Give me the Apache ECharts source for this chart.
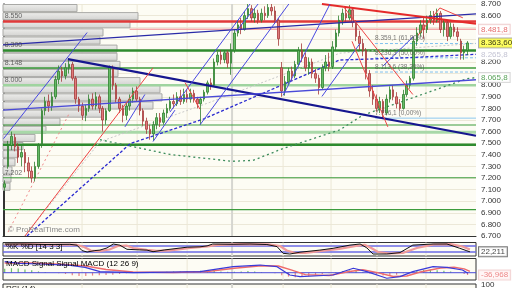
<!DOCTYPE html>
<html><head><meta charset="utf-8">
<script src="https://cdn.jsdelivr.net/npm/echarts@6/dist/echarts.min.js"></script>
<style>html,body{margin:0;padding:0;background:#fff}#c{width:512px;height:288px}</style>
</head><body><div id="c"></div>
<script>
// ---------------- DATA ----------------
const N_SLOTS = 140;
// [open, close, low, high]
const CANDLES = [
[7120,7150,7090,7180],[7300,7480,7280,7520],[7480,7560,7440,7600],[7550,7470,7430,7580],[7470,7380,7330,7500],
[7380,7420,7300,7480],[7420,7330,7250,7450],[7330,7260,7200,7380],[7260,7200,7160,7300],[7200,7300,7170,7340],
[7300,7480,7280,7500],[7480,7780,7460,7800],[7780,7860,7740,7900],[7860,7820,7770,7920],[7820,7900,7780,7940],
[7900,8050,7880,8080],[8050,8120,8010,8170],[8120,8080,8030,8160],[8080,8150,8050,8190],[8150,8180,8100,8230],
[8180,8060,8040,8200],[8060,7880,7840,8080],[7880,7820,7770,7900],[7820,7740,7700,7850],[7740,7800,7690,7830],
[7800,7880,7770,7920],[7880,7820,7790,7930],[7820,7900,7790,7940],[7900,7800,7760,7920],[7800,7700,7600,7820],
[7700,7780,7660,7800],[7780,8150,7770,8170],[8150,8000,7960,8170],[8000,7880,7850,8020],[7880,7800,7760,7900],
[7800,7740,7680,7830],[7740,7820,7700,7850],[7820,7880,7780,7920],[7880,7950,7850,7980],[7950,7880,7860,7990],
[7880,7780,7740,7900],[7780,7690,7650,7800],[7690,7620,7580,7720],[7620,7580,7530,7660],[7580,7660,7520,7690],
[7660,7720,7620,7760],[7720,7680,7640,7760],[7680,7760,7660,7790],[7760,7800,7720,7840],[7800,7860,7780,7900],
[7860,7840,7800,7920],[7840,7900,7820,7940],[7900,7860,7830,7960],[7860,7920,7840,7970],[7920,7880,7850,7960],
[7880,7930,7850,7970],[7930,7880,7850,7960],[7880,7840,7800,7900],[7840,7880,7660,7900],[7880,7940,7860,7960],
[7940,8020,7920,8040],[8020,8000,7960,8060],[8000,8200,7990,8230],[8200,8260,8170,8290],[8260,8220,8180,8300],
[8220,8280,8190,8300],[8280,8190,8150,8300],[8190,8300,8090,8360],[8300,8450,8280,8480],[8450,8520,8420,8560],
[8520,8480,8440,8580],[8480,8600,8470,8640],[8600,8660,8570,8700],[8660,8580,8550,8690],[8580,8620,8540,8660],
[8620,8560,8530,8650],[8560,8620,8540,8660],[8620,8600,8560,8680],[8600,8670,8580,8700],[8670,8640,8600,8700],
[8640,8560,8540,8680],[8560,8400,8340,8580],[8150,7950,7900,8200],[7950,8030,7910,8080],[8030,8120,8000,8150],
[8120,8080,8040,8160],[8080,8180,8060,8210],[8180,8300,8160,8330],[8300,8240,8200,8360],[8240,8150,8120,8280],
[8150,8200,8090,8240],[8200,8100,8060,8230],[8100,8060,8020,8140],[8060,7980,7920,8090],[7980,8150,7960,8180],
[8150,8200,8120,8260],[8200,8160,8120,8280],[8160,8330,8140,8380],[8330,8450,8300,8480],[8450,8560,8420,8600],
[8560,8620,8520,8660],[8620,8580,8540,8670],[8580,8650,8560,8690],[8650,8540,8500,8670],[8540,8420,8380,8560],
[8420,8360,8300,8470],[8360,8300,8250,8400],[8300,8100,8050,8320],[8100,7950,7900,8130],[7950,7880,7830,8000],
[7880,7800,7770,7920],[7800,7860,7760,7900],[7860,7760,7716,7880],[7760,7880,7740,7920],[7880,7960,7850,7990],
[7960,7900,7870,8000],[7900,7840,7800,7940],[7840,7800,7780,7880],[7800,7920,7790,7960],[7920,8000,7900,8040],
[8000,8060,7970,8080],[8060,8380,8040,8420],[8380,8450,8340,8500],[8450,8520,8420,8560],[8520,8480,8400,8580],
[8480,8560,8450,8600],[8560,8600,8530,8640],[8600,8560,8520,8640],[8560,8620,8540,8660],[8620,8480,8450,8640],
[8480,8540,8420,8570],[8540,8420,8380,8560],[8420,8500,8400,8540],[8500,8460,8420,8530],[8460,8420,8380,8500],
[8380,8280,8220,8400],[8280,8300,8220,8340],[8300,8364,8260,8380]
];
// volume profile bins (price top, price bottom, volume)
const VP_TOP    = [8700,8630,8560,8490,8420,8350,8280,8210,8140,8070,8000,7930,7860,7790,7720,7650,7580,7510,7440,7370,7300,7230,7160];
const VP_BOTTOM = [8630,8560,8490,8420,8350,8280,8210,8140,8070,8000,7930,7860,7790,7720,7650,7580,7510,7440,7370,7300,7230,7160,7090];
const VP_VOL    = [74,135,127,100,97,114,114,117,115,137,157,159,150,100,57,43,32,20,15,12,9,8,7];
// horizontal support / resistance levels
const LEVELS      = [8550, 8300, 8148, 8000, 7657, 7594, 7487, 7202, 6927];
const LEVEL_TEXT  = ['8.550','8.300','8.148','8.000','','','','7.202',''];
const RES_LINE    = [[37, 8481.8],[139.5, 8481.8]];
// trend lines in (candle index, price)
const TREND_NAVY     = [[18.7,8225],[139.5,7564]];
const TREND_BLUE_LONG= [[-0.5,7785],[139.5,8047]];
const TREND_NAVY_TOP = [[-0.5,8347],[139.5,8615]];
const TREND_RED_TOP  = [[93.9,8700],[139.5,8530]];
const CHANNEL_LINES = [
  [[-0.35,7539],[24.4,8454]], [[48.9,7768],[72.6,8700]], [[57.8,7658],[84.1,8700]],
  [[82.4,7912],[96.3,8700]], [[93.9,7903],[105.2,8361]], [[112,8166],[121,8420]],
  [[35.6,7641],[41.5,7920]], [[43.9,7514],[50.4,7785]], [[68.5,8463],[75,8700]]
];
const RED_LINES = [
  [[6.0,6700],[43.9,8149]], [[100.1,8683],[120.8,7920]], [[102.8,8378],[113.4,7641]],
  [[122.3,8429],[128.8,8666],[135.6,8581]], [[53.4,8022],[57.8,7793]]
];
const RED_DOTTED = [[1.0,6734],[19.3,7768]];
const MA_BLUE  = [[6.6,6700],[37.2,7497],[58.8,7708],[99.1,8217],[116.9,8234],[139.5,8266]];
const MA_GREEN = [[28.2,7530],[48.9,7403],[67.3,7344],[73.5,7352],[82.4,7454],[99.2,7615],[106,7742],[117,7853],[136.8,8056],[139.5,8066]];
const MA_GRAY  = [[6.0,6700],[28.2,7513],[60.8,7853],[99.2,8276],[139.5,8361]];
const FIB_START = 109.6;
const FIB_VALUES = [8359.1, 8236.3, 8113.6, 7716.1];
const FIB_TEXT = ['8.359,1 (61,80%)','8.236,3 (50,00%)','8.113,6 (38,20%)','7.716,1 (0,00%)'];
const BADGE_VALUES = [8481.8, 8363.6, 8265.8, 8065.8];
const BADGE_TEXT = ['8.481,8','8.363,60','8.265,8','8.065,8'];
const Y_HIDDEN_TICKS = [8500, 8400, 8300, 8100];
const VLINES = [22.9, 39.2, 54, 67.3, 82.4, 96.6, 110.2, 124.7];
// indicators
const STOCH_K = [[0,100],[4.5,100],[12,95],[19.3,97],[21.4,88],[22.9,34],[24.4,20],[26.7,34],[28.2,39],[30.3,61],[32.1,100],[34.1,88],[36.2,47],[40,41],[42.1,39],[43.9,23],[47.4,41],[54,68],[57.8,72],[59.9,81],[61.6,100],[67.6,97],[72.6,100],[77.6,95],[80.6,74],[82.4,7],[84.4,0],[87.4,18],[93.3,39],[97.2,57],[102.2,89],[105.2,100],[107.2,61],[109,0],[113.1,0],[117,14],[120.8,89],[126.8,100],[130.9,100],[134.7,57],[136.8,32],[137.7,22]];
const STOCH_D = [[0,95],[6,98],[14,94],[21,95],[23.5,70],[25.5,35],[28,28],[31,45],[33.5,80],[36,85],[38,60],[42,42],[45,32],[49,36],[55,60],[60,75],[63,92],[70,98],[78,96],[81.5,80],[83.5,35],[86,10],[89,12],[95,35],[99,52],[104,80],[106.5,92],[108.5,60],[110.5,20],[114,5],[118,12],[122,60],[127,95],[132,98],[135.5,75],[137.7,45]];
const STOCH_LEVELS = [80, 20];
const STOCH_LAST = 22.211, STOCH_LAST_TEXT = '22,211';
const MACD_LINE = [[0,172],[4.5,146],[10.5,136],[18.4,120],[23.8,84],[28.2,16],[38,0],[48.9,10],[57.8,16],[67.6,94],[75.6,120],[80.6,94],[84.4,-36],[87.4,-62],[97.2,-36],[103.2,69],[107.2,16],[113.1,-87],[117,-62],[120.8,16],[126.8,94],[130.9,84],[135.5,42],[137.1,-10]];
const MACD_SIGNAL = [[0,150],[8,150],[18,130],[24,105],[30,50],[38,12],[50,5],[60,20],[68,70],[76,110],[81,105],[85,40],[89,-30],[96,-45],[102,20],[106,45],[110,5],[115,-60],[119,-50],[123,10],[129,75],[133,85],[136,60],[137.7,20]];
const MACD_HIST = [[0,60],[2,70],[4,65],[6,50],[8,40],[10,20],[12,10],[14,0],[16,-10],[18,-20],[20,-40],[22,-50],[24,-50],[26,-45],[28,-40],[30,-35],[32,-30],[34,-20],[36,-10],[38,-5],[40,0],[42,5],[44,10],[46,10],[48,15],[50,20],[52,20],[54,25],[56,25],[58,30],[60,30],[62,25],[64,20],[66,15],[68,15],[70,20],[72,25],[74,20],[76,10],[78,0],[80,-10],[82,-40],[84,-60],[86,-70],[88,-65],[90,-55],[92,-40],[94,-25],[96,-10],[98,10],[100,25],[102,35],[104,30],[106,10],[108,-10],[110,-30],[112,-45],[114,-40],[116,-30],[118,-10],[120,10],[122,30],[124,45],[126,50],[128,40],[130,30],[132,20],[134,0],[136,-20],[137,-35]];
const MACD_LAST = -36.968, MACD_LAST_TEXT = '-36,968';
const RSI_TICK = 100;

// ---------------- CHART ----------------
const FONT = 'Liberation Sans, Arial, sans-serif';
const fmtPrice = v => Math.floor(v/1000) + '.' + String(Math.round(v%1000)).padStart(3,'0');
const chart = echarts.init(document.getElementById('c'), null, {renderer:'canvas'});
const series = [];
const L = (data, style, z, xi, yi) => series.push({type:'line', xAxisIndex: xi===undefined?1:xi, yAxisIndex: yi===undefined?0:yi,
  data, symbol:'none', showSymbol:false, silent:true, animation:false, z: z||6, lineStyle: style});

// vertical grid lines
VLINES.forEach((v,i) => {
  const w = (i===3) ? 2 : 1, c = (i===3) ? '#d6d6d0' : '#ece7d6';
  L([[v,6700],[v,8700]], {color:c, width:w}, 1, 1, 0);
  L([[v,-20],[v,115]], {color:c, width:w}, 1, 3, 2);
  L([[v,-114],[v,222]], {color:c, width:w}, 1, 4, 3);
  L([[v,-20],[v,120]], {color:c, width:w}, 1, 5, 4);
});

// volume profile
series.push({type:'custom', xAxisIndex:2, yAxisIndex:0, silent:true, animation:false, z:2,
  data: VP_VOL.map((v,i)=>[v, VP_TOP[i], VP_BOTTOM[i]]),
  renderItem: (params, api) => {
    const p0 = api.coord([0, api.value(1)]);
    const p1 = api.coord([api.value(0), api.value(2)]);
    return {type:'rect', shape:{x:p0[0], y:p0[1]+0.5, width:p1[0]-p0[0], height:p1[1]-p0[1]-1},
      style:{fill: new echarts.graphic.LinearGradient(0,0,0,1,[{offset:0,color:'#eeeeec'},{offset:1,color:'#d2d2d0'}]),
             stroke:'#a9a9a6', lineWidth:1}};
  }});

// horizontal levels
const LEVEL_STYLE = [
  {color:'#e03a3a', width:2.5},{color:'#2e8b2e', width:2.5},{color:'#3c9c3c', width:1.5},{color:'#9fd49f', width:2.5},
  {color:'#3c9c3c', width:1.2},{color:'#a8d8a8', width:3},{color:'#2e8b2e', width:2.5},{color:'#3c9c3c', width:1.2},{color:'#3c9c3c', width:1.2}];
LEVELS.forEach((v,i) => L([[-0.5,v],[139.5,v]], LEVEL_STYLE[i], 3));
L(RES_LINE, {color:'#f2a6a6', width:1.5}, 3);
// fib lines
FIB_VALUES.forEach((v,i) => L([[FIB_START,v],[139.5,v]], i===3 ? {color:'#8cc8f0', width:1} : {color:'#7fc0ee', width:1, type:[3,2]}, 3));

// moving averages
L(MA_GRAY, {color:'#c8c8c8', width:1, type:[2,2]}, 4);
L(MA_BLUE, {color:'#2a2ad0', width:1.3, type:[3,2]}, 4);
L(MA_GREEN, {color:'#3c8c5c', width:1.3, type:[2,3]}, 4);
L(RED_DOTTED, {color:'#f08888', width:1, type:[2,3]}, 4);

// candles
series.push({type:'candlestick', xAxisIndex:0, yAxisIndex:0, data:CANDLES, barWidth:2, z:5, animation:false, silent:true,
  itemStyle:{color:'#66bb66', color0:'#e07a7a', borderColor:'#2f7f2f', borderColor0:'#a53a3a', borderWidth:0.8}});

// trend lines
L(TREND_NAVY, {color:'#16168f', width:2.2}, 6);
L(TREND_BLUE_LONG, {color:'#4a4ad8', width:1.3}, 6);
L(TREND_NAVY_TOP, {color:'#2a2aa8', width:1.3}, 6);
L(TREND_RED_TOP, {color:'#e52a2a', width:2}, 6);
CHANNEL_LINES.forEach(d => L(d, {color:'#4848e0', width:1}, 6));
RED_LINES.forEach(d => L(d, {color:'#ee4444', width:1}, 6));

// left labels of levels
series.push({type:'scatter', xAxisIndex:1, yAxisIndex:0, symbolSize:0, silent:true, animation:false, z:7, clip:false,
  data: LEVELS.map((v,i)=>({value:[0,v], label:{formatter:LEVEL_TEXT[i]}})).filter((d,i)=>LEVEL_TEXT[i]),
  label:{show:true, position:'right', distance:0, offset:[0,-5], fontSize:7, fontFamily:FONT, color:'#444'}});
// fib labels
series.push({type:'scatter', xAxisIndex:1, yAxisIndex:0, symbolSize:0, silent:true, animation:false, z:7, clip:false,
  data: FIB_VALUES.map((v,i)=>({value:[FIB_START,v], label:{formatter:FIB_TEXT[i]}})),
  label:{show:true, position:'right', distance:0, offset:[0,-5], fontSize:6.5, fontFamily:FONT, color:'#555'}});
// right badges
const BADGE_STYLE = [
  {color:'#e04848', backgroundColor:'#fff', borderColor:'#ecc4c4'},
  {color:'#000', backgroundColor:'#ffff3a', borderColor:'#999'},
  {color:'#b4b4c8', backgroundColor:'#fff', borderColor:'#fff'},
  {color:'#2e8b2e', backgroundColor:'#fff', borderColor:'#cfcfcf'}];
series.push({type:'scatter', xAxisIndex:1, yAxisIndex:0, symbolSize:0, silent:true, animation:false, z:9, clip:false,
  data: BADGE_VALUES.map((v,i)=>({value:[139.5,v], label:Object.assign({formatter:BADGE_TEXT[i]}, BADGE_STYLE[i])})),
  label:{show:true, position:'right', distance:3, fontSize:8, fontFamily:FONT, borderWidth:1, padding:[1,2,0,2]}});

// stochastic panel
STOCH_LEVELS.forEach(v => L([[-0.5,v],[139.5,v]], {color:'#6a6ae6', width:1.5}, 3, 3, 2));
L(STOCH_D, {color:'#f09a9a', width:2.2}, 4, 3, 2);
L(STOCH_K, {color:'#111', width:1}, 5, 3, 2);
series.push({type:'scatter', xAxisIndex:3, yAxisIndex:2, symbolSize:0, silent:true, animation:false, z:9, clip:false,
  data:[{value:[139.5, STOCH_LAST]}],
  label:{show:true, position:'right', distance:3, formatter:STOCH_LAST_TEXT, fontSize:8, fontFamily:FONT, color:'#111',
    backgroundColor:'#fff', borderColor:'#555', borderWidth:1, padding:[1,2,0,2]}});

// MACD panel
series.push({type:'bar', xAxisIndex:4, yAxisIndex:3, data:MACD_HIST, barWidth:1.2, silent:true, animation:false, z:3,
  itemStyle:{color: p => p.value[1] >= 0 ? '#6cc06c' : '#e88080'}});
L([[-0.5,0],[139.5,0]], {color:'#4a4ad8', width:1}, 3, 4, 3);
L(MACD_SIGNAL, {color:'#ef6b6b', width:1.5}, 4, 4, 3);
L(MACD_LINE, {color:'#3a3ad8', width:1.2}, 5, 4, 3);
series.push({type:'scatter', xAxisIndex:4, yAxisIndex:3, symbolSize:0, silent:true, animation:false, z:9, clip:false,
  data:[{value:[139.5, MACD_LAST]}],
  label:{show:true, position:'right', distance:3, formatter:MACD_LAST_TEXT, fontSize:8, fontFamily:FONT, color:'#e86a6a',
    backgroundColor:'#fff4f4', borderColor:'#f0caca', borderWidth:1, padding:[1,2,0,2]}});

const hiddenX = (grid) => ({type:'value', gridIndex:grid, min:-0.5, max:139.5, show:false});
const option = {
  animation:false,
  backgroundColor:'#ffffff',
  textStyle:{fontFamily:FONT},
  grid:[
    {left:3, right:36, top:0.5, height:235.5, show:true, backgroundColor:'#fdfcf4', borderWidth:0},
    {left:3, right:36, top:242.5, height:13.5, show:true, backgroundColor:'#fdfcf4', borderColor:'#333', borderWidth:1},
    {left:3, right:36, top:258.5, height:21.5, show:true, backgroundColor:'#fdfcf4', borderColor:'#333', borderWidth:1},
    {left:3, right:36, top:284, height:30, show:true, backgroundColor:'#fdfcf4', borderColor:'#333', borderWidth:1}
  ],
  xAxis:[
    {type:'category', gridIndex:0, data:Array.from({length:N_SLOTS},(_,i)=>String(i+1)), boundaryGap:true,
      axisLine:{show:true, lineStyle:{color:'#333', width:1}}, axisTick:{show:false}, axisLabel:{show:false}, splitLine:{show:false}},
    hiddenX(0),
    {type:'value', gridIndex:0, min:0, max:473, show:false},
    hiddenX(1), hiddenX(2), hiddenX(3)
  ],
  yAxis:[
    {type:'value', gridIndex:0, position:'right', min:6700, max:8700, interval:100,
      axisLine:{show:true, lineStyle:{color:'#333'}}, axisTick:{show:false},
      axisLabel:{fontSize:8, color:'#333', margin:5, fontFamily:FONT,
        formatter: v => Y_HIDDEN_TICKS.includes(v) ? '' : fmtPrice(v)},
      splitLine:{show:true, lineStyle:{color:'#ece8d8', width:1}}},
    {type:'value', gridIndex:0, position:'left', min:6700, max:8700, axisLine:{show:true, lineStyle:{color:'#333'}},
      axisLabel:{show:false}, axisTick:{show:false}, splitLine:{show:false}},
    {type:'value', gridIndex:1, min:-20, max:115, show:false},
    {type:'value', gridIndex:2, min:-114, max:222, show:false},
    {type:'value', gridIndex:3, position:'right', min:-20, max:120, interval:20,
      axisLine:{show:false}, axisTick:{show:false}, splitLine:{show:false},
      axisLabel:{fontSize:8, color:'#333', margin:5, fontFamily:FONT, formatter: v => v === RSI_TICK ? String(RSI_TICK) : ''}}
  ],
  graphic:[
    {type:'text', left:8, top:226, silent:true, z:20, style:{text:'© ProRealTime.com', fontSize:8, fontFamily:FONT, fill:'#8a8a8a'}},
    {type:'text', left:6, top:243, silent:true, z:20, style:{text:'{a|%K} {b|%D [14 3 3]}', fontSize:8, fontFamily:FONT,
      rich:{a:{color:'#111', fontSize:8}, b:{color:'#ee7070', fontSize:8}}}},
    {type:'text', left:6, top:259.5, silent:true, z:20, style:{text:'{a|MACD} {b|Signal} {b|Signal} {c|MACD (12 26 9)}', fontSize:8, fontFamily:FONT,
      rich:{a:{color:'#e04040', fontSize:8}, b:{color:'#ee8080', fontSize:8}, c:{color:'#3a3ad8', fontSize:8}}}},
    {type:'text', left:6, top:285, silent:true, z:20, style:{text:'RSI (14)', fontSize:8, fontFamily:FONT, fill:'#222'}}
  ],
  series
};
chart.setOption(option);
</script>
</body></html>
